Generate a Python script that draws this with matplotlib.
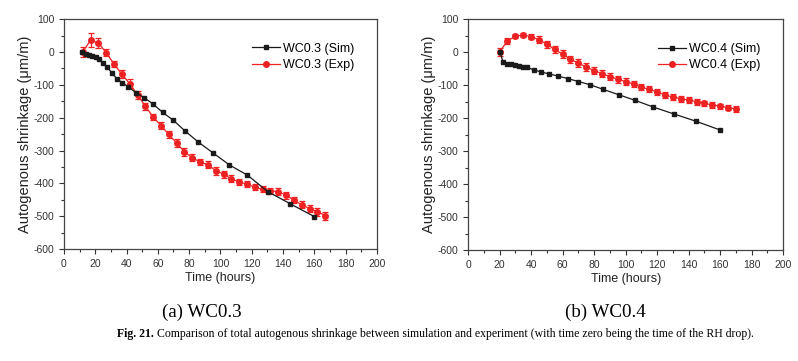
import numpy as np
import matplotlib.pyplot as plt
from matplotlib.ticker import MultipleLocator

# WC0.3 simulation
t_sim_03 = [11.7, 13.9, 16, 18.1, 20.3, 22.4, 24.7, 27.4, 30.5, 33.7, 37.3, 41.1, 46, 51.3,
            57.1, 63.1, 69.9, 77.3, 85.8, 95.5, 105.8, 117.3, 130.3, 144.6, 160]
sim_03 = [0, -7, -9, -11, -16, -22, -33, -45, -63, -81, -94, -106, -124, -139,
          -159, -184, -208, -240, -274, -308, -344, -375, -425, -462, -501]

# WC0.3 experiment
t_exp_03 = list(range(12, 168, 5))
exp_03 = [0, 36, 27, -2, -37, -68, -96, -130, -165, -198, -224, -251, -277, -304, -322, -335,
          -343, -361, -372, -386, -396, -402, -412, -418, -423, -425, -436, -451, -465, -477,
          -486, -498]
err_03 = [14, 22, 15, 10, 10, 12, 14, 12, 11, 10, 10, 11, 12, 12, 11, 10,
          11, 12, 11, 11, 10, 9, 9, 9, 10, 10, 11, 10, 10, 10, 12, 12]

# WC0.4 simulation
t_sim_04 = [20.2, 22.3, 24.8, 27.3, 29.8, 32.3, 34.8, 37.5, 41.8, 46.5, 51.4, 56.8, 63.2, 70,
            77.6, 85.9, 95.6, 106, 117.3, 130.4, 144.4, 160]
sim_04 = [0, -30, -35, -37, -39, -42, -45, -46, -54, -60, -66, -72, -80, -89,
          -99, -113, -129, -146, -166, -187, -209, -236]

# WC0.4 experiment
t_exp_04 = list(range(20, 171, 5))
exp_04 = [1, 34, 48, 52, 47, 38, 24, 8, -6, -22, -33, -45, -56, -65, -74, -82,
          -89, -96, -106, -113, -120, -130, -136, -141, -145, -150, -155, -160, -164, -168, -172]
err_04 = [12, 8, 6, 6, 8, 10, 11, 12, 11, 11, 11, 11, 11, 10, 10, 10,
          10, 10, 9, 9, 9, 9, 9, 9, 9, 9, 8, 8, 8, 8, 8]

plt.rcParams['font.family'] = ['Liberation Sans', 'DejaVu Sans']
plt.rcParams['axes.unicode_minus'] = False

fig = plt.figure(figsize=(7.98, 3.61), dpi=100)
ax1 = fig.add_axes([0.0802, 0.310, 0.392, 0.637])
ax2 = fig.add_axes([0.5865, 0.307, 0.395, 0.640])

panels = [
    (ax1, t_sim_03, sim_03, t_exp_03, exp_03, err_03, 'WC0.3'),
    (ax2, t_sim_04, sim_04, t_exp_04, exp_04, err_04, 'WC0.4'),
]

red = '#ee2222'
for ax, ts, ys, te, ye, ee, name in panels:
    ax.plot(ts, ys, '-s', color='#1a1a1a', lw=0.9, ms=3.4, label=f'{name} (Sim)', zorder=3)
    ax.errorbar(te, ye, yerr=ee, fmt='none', ecolor=red, elinewidth=0.9,
                capsize=2, capthick=0.9, zorder=2)
    ax.plot(te, ye, '-o', color=red, lw=0.9, ms=4.0, label=f'{name} (Exp)', zorder=2)
    ax.set_xlim(0, 200)
    ax.set_ylim(-600, 100)
    ax.xaxis.set_major_locator(MultipleLocator(20))
    ax.xaxis.set_minor_locator(MultipleLocator(10))
    ax.yaxis.set_major_locator(MultipleLocator(100))
    ax.yaxis.set_minor_locator(MultipleLocator(50))
    ax.tick_params(which='both', direction='out', labelsize=7.5, colors='#333333',
                   top=False, right=False)
    ax.tick_params(which='major', length=3.5, width=0.8)
    ax.tick_params(which='minor', length=2, width=0.8)
    for s in ax.spines.values():
        s.set_color('#444444')
        s.set_linewidth(0.9)
    ax.set_xlabel('Time (hours)', fontsize=9, color='#222222', labelpad=2)
    ax.set_ylabel('Autogenous shrinkage (\u03bcm/m)', fontsize=10.5, color='#222222', labelpad=1)
    ax.legend(loc='upper right', bbox_to_anchor=(0.955, 0.935), frameon=False,
              fontsize=9, handlelength=2.2, handletextpad=0.25, labelspacing=0.35,
              borderpad=0.2)

fig.text(0.253, 0.122, '(a) WC0.3', family='Liberation Serif', fontsize=13.7, ha='center')
fig.text(0.758, 0.122, '(b) WC0.4', family='Liberation Serif', fontsize=13.7, ha='center')
fig.text(0.1466, 0.067, 'Fig. 21.', family='Liberation Serif', fontsize=8.5,
         fontweight='bold', ha='left')
fig.text(0.197, 0.067, 'Comparison of total autogenous shrinkage between simulation and '
         'experiment (with time zero being the time of the RH drop).',
         family='Liberation Serif', fontsize=8.5, ha='left')

fig.savefig('out.png', dpi=100)
